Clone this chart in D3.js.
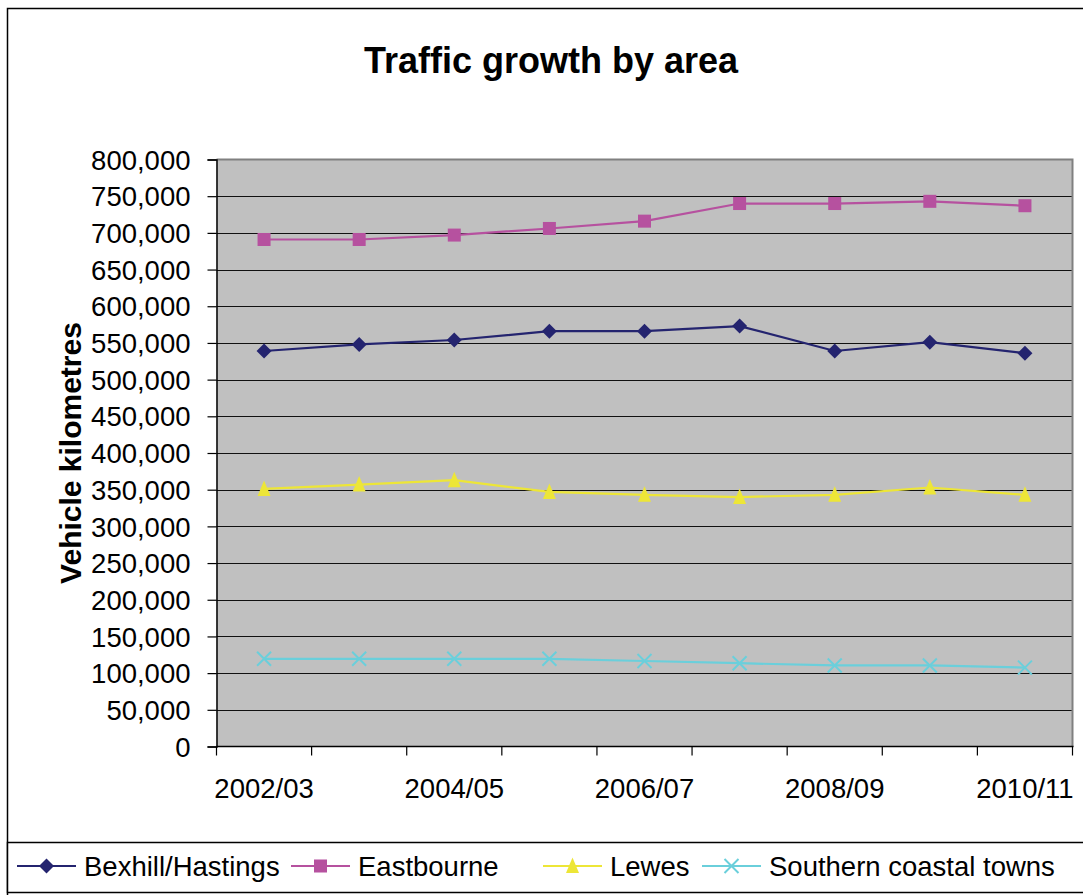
<!DOCTYPE html>
<html>
<head>
<meta charset="utf-8">
<script src="https://cdn.jsdelivr.net/npm/d3@7"></script>
<style>
  html, body { margin: 0; padding: 0; background: #fff; }
  svg { display: block; font-family: "Liberation Sans", Arial, sans-serif; }
</style>
</head>
<body>
<svg id="chart" width="1083" height="895"></svg>
<script>
// Financial years on the category axis
const years = ["2002/03", "2003/04", "2004/05", "2005/06", "2006/07", "2007/08", "2008/09", "2009/10", "2010/11"];
// Only every second year is labelled on the axis
const yearLabels = ["2002/03", "2004/05", "2006/07", "2008/09", "2010/11"];

// Vehicle kilometres per area
const bexhillHastings = [539000, 548000, 554000, 566000, 566000, 573000, 539000, 551000, 536000];
const eastbourne      = [691000, 691000, 697000, 706000, 716000, 740000, 740000, 743000, 737000];
const lewes           = [351000, 357000, 363000, 347000, 343000, 340000, 343000, 353000, 343000];
const southernCoastal = [119500, 119500, 119500, 119500, 116500, 113500, 110500, 110500, 107500];

const seriesNames = ["Bexhill/Hastings", "Eastbourne", "Lewes", "Southern coastal towns"];
const yTicks = d3.range(0, 800001, 50000);

const series = [
  { name: seriesNames[0], values: bexhillHastings, color: "#24246F", marker: "diamond" },
  { name: seriesNames[1], values: eastbourne,      color: "#B6519F", marker: "square" },
  { name: seriesNames[2], values: lewes,           color: "#EDE637", marker: "triangle" },
  { name: seriesNames[3], values: southernCoastal, color: "#6ACFDB", marker: "cross" }
];

const svg = d3.select("#chart");
const plot = { left: 216.5, right: 1072.5, top: 159.5, bottom: 746.5 };

const x = d3.scaleBand().domain(years).range([plot.left, plot.right]).paddingInner(0).paddingOuter(0);
const y = d3.scaleLinear().domain([0, 800000]).range([plot.bottom, plot.top]);
const cx = d => x(d) + x.bandwidth() / 2;

// Outer chart frame
svg.append("rect")
  .attr("x", 7.5).attr("y", 8.5).attr("width", 1100).attr("height", 900)
  .attr("fill", "#fff").attr("stroke", "#000").attr("stroke-width", 1.5);

// Title
svg.append("text")
  .attr("x", 551).attr("y", 73)
  .attr("text-anchor", "middle")
  .attr("font-size", 36).attr("font-weight", "bold")
  .text("Traffic growth by area");

// Plot area background
svg.append("rect")
  .attr("x", plot.left).attr("y", plot.top)
  .attr("width", plot.right - plot.left).attr("height", plot.bottom - plot.top)
  .attr("fill", "#C0C0C0");

// Horizontal gridlines
svg.append("g")
  .selectAll("line")
  .data(yTicks.filter(v => v > 0 && v < 800000))
  .join("line")
  .attr("x1", plot.left).attr("x2", plot.right)
  .attr("y1", d => Math.round(y(d)) + 0.5).attr("y2", d => Math.round(y(d)) + 0.5)
  .attr("stroke", "#111").attr("stroke-width", 1.2);

// Plot area border (top and right)
svg.append("path")
  .attr("d", `M${plot.left},${plot.top}H${plot.right}V${plot.bottom}`)
  .attr("fill", "none").attr("stroke", "#808080").attr("stroke-width", 2);

// Y axis
const yAxis = d3.axisLeft(y)
  .tickValues(yTicks)
  .tickSize(9)
  .tickPadding(17)
  .tickFormat(d3.format(","));
const gy = svg.append("g").attr("transform", `translate(${plot.left},0)`).call(yAxis);
gy.select(".domain").attr("stroke", "#000").attr("stroke-width", 1.5);
gy.selectAll(".tick line").attr("stroke", "#000").attr("stroke-width", 1.2);
gy.selectAll(".tick text")
  .attr("font-size", 27.5).attr("font-family", "Liberation Sans, Arial, sans-serif")
  .attr("fill", "#000").attr("dy", "0.35em");

// X axis: ticks on category boundaries, labels on alternate categories
const gx = svg.append("g").attr("transform", `translate(0,${plot.bottom})`);
gx.append("line")
  .attr("x1", plot.left).attr("x2", plot.right + 1)
  .attr("y1", 0).attr("y2", 0)
  .attr("stroke", "#000").attr("stroke-width", 1.5);
const boundaries = years.map(d => x(d)).concat([x(years[years.length - 1]) + x.bandwidth()]);
gx.selectAll("line.tick")
  .data(boundaries)
  .join("line")
  .attr("class", "tick")
  .attr("x1", d => d).attr("x2", d => d)
  .attr("y1", 0).attr("y2", 9)
  .attr("stroke", "#000").attr("stroke-width", 1.2);
gx.selectAll("text")
  .data(yearLabels)
  .join("text")
  .attr("x", d => cx(d))
  .attr("y", 51)
  .attr("text-anchor", "middle")
  .attr("font-size", 27.5)
  .text(d => d);

// Y axis title
svg.append("text")
  .attr("transform", "translate(81,453) rotate(-90)")
  .attr("text-anchor", "middle")
  .attr("font-size", 30).attr("font-weight", "bold")
  .text("Vehicle kilometres");

// Marker shapes
function drawMarker(g, type, color, px, py) {
  if (type === "diamond") {
    g.append("path").attr("d", `M${px},${py - 7.5}L${px + 7.5},${py}L${px},${py + 7.5}L${px - 7.5},${py}Z`).attr("fill", color);
  } else if (type === "square") {
    g.append("rect").attr("x", px - 6.5).attr("y", py - 6.5).attr("width", 13).attr("height", 13).attr("fill", color);
  } else if (type === "triangle") {
    g.append("path").attr("d", `M${px},${py - 8.5}L${px + 6.5},${py + 7}L${px - 6.5},${py + 7}Z`).attr("fill", color);
  } else if (type === "cross") {
    g.append("path").attr("d", `M${px - 7},${py - 7}L${px + 7},${py + 7}M${px + 7},${py - 7}L${px - 7},${py + 7}`)
      .attr("stroke", color).attr("stroke-width", 2).attr("fill", "none");
  }
}

// Lines and markers
const line = d3.line().x((d, i) => cx(years[i])).y(d => y(d));
series.forEach(s => {
  const g = svg.append("g");
  g.append("path").datum(s.values)
    .attr("d", line)
    .attr("fill", "none").attr("stroke", s.color).attr("stroke-width", 2.2);
  s.values.forEach((v, i) => drawMarker(g, s.marker, s.color, cx(years[i]), y(v)));
});

// Legend box
svg.append("rect")
  .attr("x", 7.5).attr("y", 842.5).attr("width", 1100).attr("height", 50)
  .attr("fill", "#fff").attr("stroke", "#000").attr("stroke-width", 1.5);

// Legend entries: each entry's sample line starts at its own slot
const legendSlots = [17, 291, 543, 702];
const legend = svg.append("g");
const ly = 866;
series.forEach((s, i) => {
  const lx = legendSlots[i];
  const g = legend.append("g");
  g.append("line").attr("x1", lx).attr("x2", lx + 59).attr("y1", ly).attr("y2", ly)
    .attr("stroke", s.color).attr("stroke-width", 2.2);
  drawMarker(g, s.marker, s.color, lx + 29.5, ly);
  g.append("text").attr("x", lx + 67).attr("y", ly + 9.5)
    .attr("font-size", 27.5).text(s.name);
});
</script>
</body>
</html>
